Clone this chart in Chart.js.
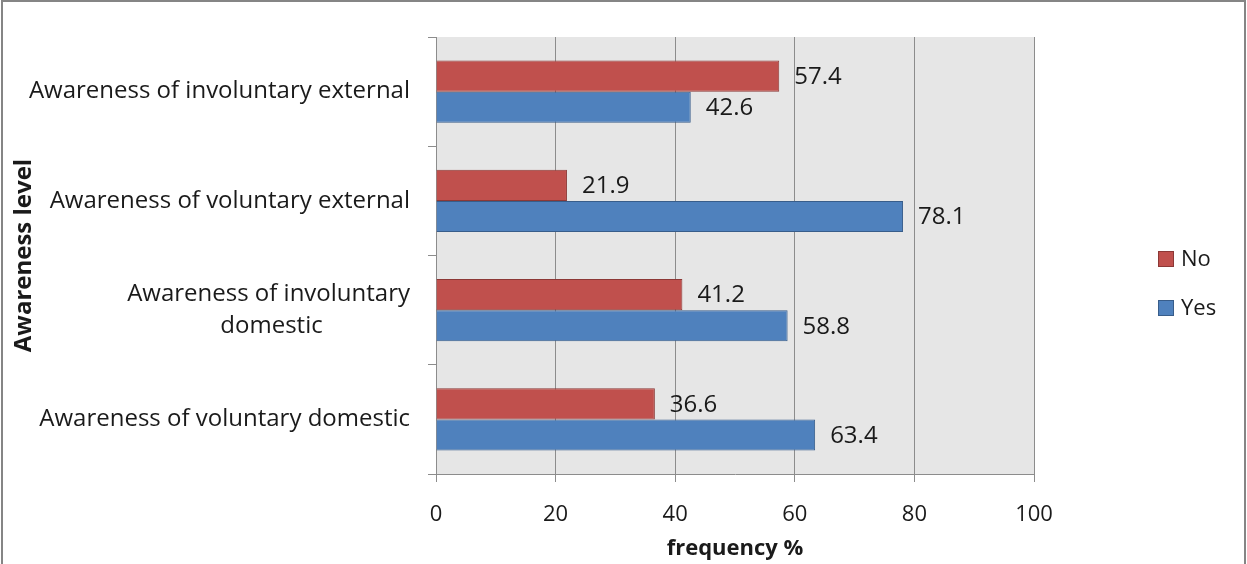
<!DOCTYPE html>
<html lang="en">
<head>
  <meta charset="UTF-8">
  <title>Awareness level</title>
  <script src="https://cdn.jsdelivr.net/npm/chart.js"></script>
  <style>
    html, body {
      margin: 0;
      padding: 0;
      background: #fff;
      overflow: hidden;
    }

    .wrap {
      position: relative;
      width: 1247px;
      height: 564px;
    }

    canvas {
      position: absolute;
      left: 0;
      top: 0;
    }

    .frame {
      position: absolute;
      left: 1px;
      top: 0;
      width: 1245px;
      height: 620px;
      border: 2px solid #858585;
      box-sizing: border-box;
      pointer-events: none;
    }
  </style>
</head>
<body>

<div class="wrap">
  <canvas id="awarenessChart" width="1247" height="564"></canvas>
  <div class="frame"></div>
</div>

<script>
  const FONT = '"Open Sans", Lato, sans-serif';

  const categories = [
    ['Awareness of involuntary external'],
    ['Awareness of voluntary external'],
    ['Awareness of involuntary', 'domestic'],
    ['Awareness of voluntary domestic']
  ];
  const noValues = [57.4, 21.9, 41.2, 36.6];
  const yesValues = [42.6, 78.1, 58.8, 63.4];
  const xTicks = [0, 20, 40, 60, 80, 100];

  // Excel centres the lines of a wrapped label inside a right-aligned block:
  // pad shorter lines with spaces so they sit in the middle
  function centreLines(lines, size) {
    if (lines.length < 2) return lines[0];
    const c = document.createElement('canvas').getContext('2d');
    c.font = size + 'px ' + FONT;
    const widest = Math.max(...lines.map(l => c.measureText(l).width));
    const space = c.measureText(' ').width;
    return lines.map(l => {
      const gap = (widest - c.measureText(l).width) / 2;
      return l + ' '.repeat(Math.round(gap / space));
    });
  }

  const plotBackground = {
    id: 'plotBackground',
    beforeDraw(chart) {
      const {ctx, chartArea: a} = chart;
      ctx.save();
      ctx.fillStyle = '#e6e6e6';
      ctx.fillRect(a.left, a.top, a.right - a.left, a.bottom - a.top);
      ctx.restore();
    }
  };

  const valueLabels = {
    id: 'valueLabels',
    afterDatasetsDraw(chart) {
      const ctx = chart.ctx;
      ctx.save();
      ctx.font = '24px ' + FONT;
      ctx.fillStyle = '#1a1a1a';
      ctx.textBaseline = 'middle';
      chart.data.datasets.forEach((ds, i) => {
        chart.getDatasetMeta(i).data.forEach((bar, j) => {
          ctx.fillText(ds.data[j].toFixed(1), bar.x + 15, bar.y + 1);
        });
      });
      ctx.restore();
    }
  };

  // legend sits well away from the plot, like the original
  const sideLegend = {
    id: 'sideLegend',
    afterDraw(chart) {
      const ctx = chart.ctx;
      ctx.save();
      ctx.font = '22px ' + FONT;
      ctx.textBaseline = 'middle';
      chart.data.datasets.forEach((ds, i) => {
        const y = 259 + i * 49;
        ctx.fillStyle = ds.backgroundColor;
        ctx.fillRect(1158, y - 8, 16, 16);
        ctx.strokeStyle = ds.borderColor;
        ctx.lineWidth = 1;
        ctx.strokeRect(1158.5, y - 7.5, 15, 15);
        ctx.fillStyle = '#1a1a1a';
        ctx.fillText(ds.label, 1181, y + 1);
      });
      ctx.restore();
    }
  };

  new Chart(document.getElementById('awarenessChart'), {
    type: 'bar',
    data: {
      labels: categories.map(l => centreLines(l, 24)),
      datasets: [
        {
          label: 'No',
          data: noValues,
          backgroundColor: '#c0504d',
          borderColor: '#8c3836',
          borderWidth: 1,
          barPercentage: 1,
          categoryPercentage: 0.57
        },
        {
          label: 'Yes',
          data: yesValues,
          backgroundColor: '#4f81bd',
          borderColor: '#385d8a',
          borderWidth: 1,
          barPercentage: 1,
          categoryPercentage: 0.57
        }
      ]
    },
    options: {
      indexAxis: 'y',
      responsive: false,
      animation: false,
      layout: {
        padding: {top: 37, right: 213, bottom: 0, left: 0}
      },
      scales: {
        x: {
          min: 0,
          max: 100,
          afterBuildTicks: scale => {
            scale.ticks = xTicks.map(v => ({value: v}));
          },
          afterFit: scale => {
            scale.height = 90;
          },
          grid: {
            color: '#8c8c8c',
            tickLength: 8
          },
          border: {
            color: '#8c8c8c'
          },
          ticks: {
            padding: 20,
            color: '#1a1a1a',
            font: {family: FONT, size: 22}
          },
          title: {
            display: true,
            text: 'frequency %',
            color: '#1a1a1a',
            padding: {top: 0, bottom: 2},
            font: {family: FONT, size: 22, weight: 'bold'}
          }
        },
        y: {
          afterFit: scale => {
            scale.width = 436;
          },
          grid: {
            offset: true,
            drawOnChartArea: false,
            color: '#8c8c8c',
            tickLength: 8
          },
          border: {
            color: '#8c8c8c'
          },
          ticks: {
            padding: 18,
            color: '#1a1a1a',
            font: {family: FONT, size: 24, lineHeight: 1.35}
          },
          title: {
            display: true,
            text: 'Awareness level',
            color: '#1a1a1a',
            padding: {top: 10, bottom: 0},
            font: {family: FONT, size: 24, weight: 'bold'}
          }
        }
      },
      plugins: {
        legend: {
          display: false
        },
        tooltip: {
          enabled: false
        }
      }
    },
    plugins: [plotBackground, valueLabels, sideLegend]
  });
</script>

</body>
</html>
